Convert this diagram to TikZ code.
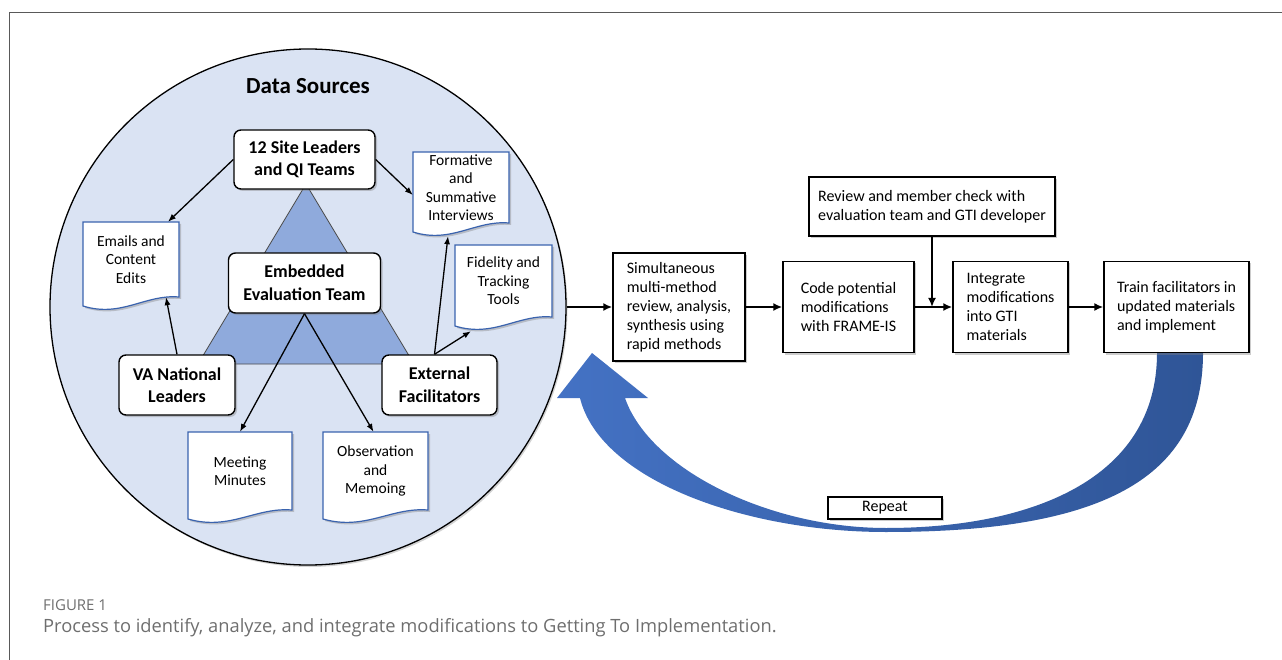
\documentclass[tikz,border=0pt]{standalone}
\usepackage{fontspec}
\setmainfont{Carlito}
\newfontfamily\capfont{Open Sans}
\usetikzlibrary{shadows,arrows.meta,calc}
\definecolor{circfill}{HTML}{DAE3F3}
\definecolor{trifill}{HTML}{8FAADC}
\definecolor{docblue}{HTML}{3A63AE}
\definecolor{arrL}{HTML}{4472C4}
\definecolor{arrM}{HTML}{3B64B0}
\definecolor{arrD}{HTML}{2F5597}
\definecolor{capgray}{HTML}{6E6E6E}
\newcommand{\docu}[6]{%
  \path[docshape] (#2,#3) -- (#4,#3) -- (#4,#5)
    .. controls ({#4-0.35*(#4-#2)},{#5-3}) and ({#2+0.4*(#4-#2)},{#5+21}) .. (#2,{#5+9}) -- cycle;
  \node[doctext, minimum width={#4-#2}, minimum height={#5-#3}] (#1) at ({(#2+#4)/2},{(#3+#5)/2}) {#6};
}
\tikzset{
  shad/.style={drop shadow={shadow xshift=2pt, shadow yshift=-2pt, opacity=0.4}},
  rbox/.style={draw=black, line width=1.4pt, fill=white, rounded corners=7pt, shad,
    align=center, inner sep=0pt, font=\fontsize{18}{22.5}\selectfont\bfseries},
  pbox/.style={draw=black, line width=1.4pt, fill=white, shad,
    align=left, inner sep=0pt, font=\fontsize{16}{19}\selectfont},
  docshape/.style={draw=docblue, line width=1.2pt, fill=white, shad},
  doctext/.style={align=center, inner sep=0pt, font=\fontsize{15.5}{18.5}\selectfont},
  arr/.style={-{Latex[length=8pt,width=6pt]}, line width=1.3pt},
  bigarr/.style={-{Latex[length=9pt,width=8pt]}, line width=2pt},
}
\begin{document}
\begin{tikzpicture}[x=1pt,y=-1pt]
\useasboundingbox (0,0) rectangle (1282,660);
% frame
\draw[line width=1.5pt, black!65] (9.5,660) -- (9.5,12.5) -- (1282,12.5);
% big circle
\node[circle, draw=black, line width=1.3pt, fill=circfill, minimum size=516pt, inner sep=0pt,
  drop shadow={shadow xshift=1.5pt, shadow yshift=-2pt, opacity=0.35}] (ds) at (308,307) {};
\node[font=\fontsize{23}{27}\selectfont\bfseries] (title) at (308,86) {Data Sources};
% triangle
\path[fill=trifill, draw=black!70, line width=0.8pt] (306,184) -- (198,364) -- (414,364) -- cycle;
% rounded boxes
\node[rbox, minimum width=141pt, minimum height=59pt] (site) at (304.5,159.5) {12 Site Leaders\\and QI Teams};
\node[rbox, minimum width=152pt, minimum height=60pt] (emb) at (304.5,283) {Embedded\\Evaluation Team};
\node[rbox, minimum width=116pt, minimum height=60pt] (va) at (177,385) {VA National\\Leaders};
\node[rbox, minimum width=115pt, minimum height=60pt] (ext) at (439.5,385) {External\\Facilitators};
% documents
\docu{emails}{83}{222}{179}{297}{Emails and\\Content\\Edits}
\docu{formative}{413}{152}{509}{223}{Formative\\and\\Summative\\Interviews}
\docu{fidelity}{455}{245}{552}{317}{Fidelity and\\Tracking\\Tools}
\docu{meeting}{188}{432}{292}{510}{Meeting\\Minutes}
\docu{obs}{323}{432}{428}{510}{Observation\\and\\Memoing}
% arrows inside circle
\draw[arr] (site.west) -- ([xshift=37pt]emails.north);
\draw[arr] (site.east) -- ([yshift=-7.5pt]formative.west);
\draw[arr] (va.north) -- ([xshift=35pt]emails.south);
\draw[arr] (emb.south) -- (meeting.north);
\draw[arr] (emb.south) -- ([xshift=-2pt]obs.north);
\draw[arr] ([xshift=-5pt]ext.north) -- ([xshift=-13pt,yshift=-13pt]formative.south);
\draw[arr] ([xshift=-5pt]ext.north) -- ([xshift=-32.5pt,yshift=-14pt]fidelity.south);
% curved repeat arrow
\path[left color=arrL, middle color=arrM, right color=arrD]
  (1203,353) .. controls (1203,480) and (1100,532) .. (886,532)
  .. controls (745,532) and (600,480) .. (580,398)
  -- (557,398) -- (592,353) -- (648,398) -- (625,398)
  .. controls (650,470) and (770,528) .. (886,528)
  .. controls (1030,528) and (1157,480) .. (1157,353) -- cycle;
% process boxes
\node[pbox, minimum width=132pt, minimum height=108pt] (sim) at (679,307) {Simultaneous\\multi-method\\review, analysis,\\synthesis using\\rapid methods};
\node[pbox, minimum width=131pt, minimum height=91pt] (code) at (848.5,307) {Code potential\\modifications\\with FRAME-IS};
\node[pbox, minimum width=115pt, minimum height=91pt] (integ) at (1010.5,307) {Integrate\\modifications\\into GTI\\materials};
\node[pbox, minimum width=145pt, minimum height=91pt] (train) at (1176.5,307) {Train facilitators in\\updated materials\\and implement};
\node[pbox, minimum width=246pt, minimum height=59pt] (review) at (932,206.5) {Review and member check with\\evaluation team and GTI developer};
\node[pbox, line width=1.2pt, minimum width=114pt, minimum height=22pt] (repeat) at (885,508) {Repeat};
\draw[bigarr] (ds.east) -- (sim.west);
\draw[bigarr] (sim.east) -- (code.west);
\draw[bigarr] (code.east) -- (integ.west);
\draw[bigarr] (integ.east) -- (train.west);
\draw[bigarr] (review.south) -- (review.south |- code.east);
% caption
\node[anchor=west, inner sep=0pt, text=capgray, font=\capfont\fontsize{15}{18}\selectfont] (figlabel) at (43,605) {FIGURE 1};
\node[anchor=west, inner sep=0pt, text=capgray, font=\capfont\fontsize{18.3}{21}\selectfont] (caption) at (43,628) {Process to identify, analyze, and integrate modifications to Getting To Implementation.};
\end{tikzpicture}
\end{document}
